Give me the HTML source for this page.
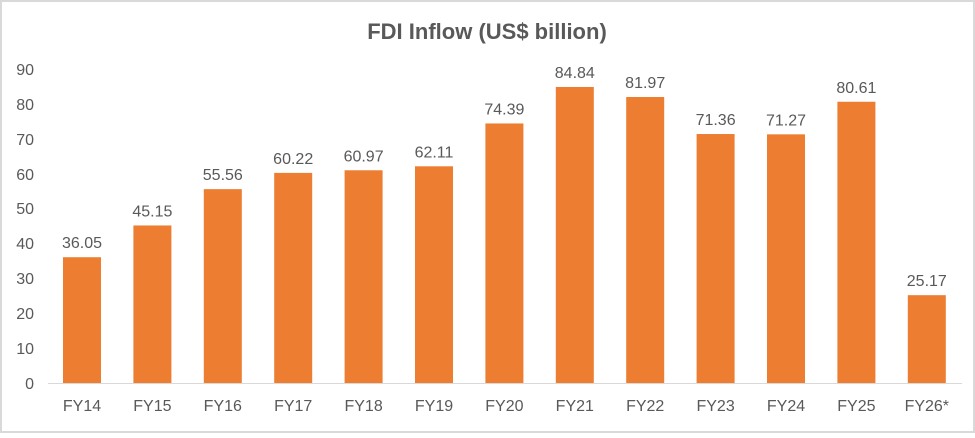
<!DOCTYPE html><html><head><style>body{margin:0;background:#fff}</style></head><body>
<svg width="975" height="433" xmlns="http://www.w3.org/2000/svg" font-family="Liberation Sans, Arial, sans-serif">
<rect x="1" y="1" width="973" height="431" fill="#fff" stroke="#d9d9d9" stroke-width="2"/>
<text x="487" y="39" text-anchor="middle" font-size="22" font-weight="bold" fill="#595959">FDI Inflow (US$ billion)</text>
<g font-size="16" fill="#595959" text-anchor="end">
<text x="34" y="389">0</text><text x="34" y="354">10</text><text x="34" y="319">20</text><text x="34" y="284">30</text><text x="34" y="249">40</text><text x="34" y="214">50</text><text x="34" y="180">60</text><text x="34" y="145">70</text><text x="34" y="110">80</text><text x="34" y="75">90</text>
</g>
<line x1="48" y1="383.5" x2="962" y2="383.5" stroke="#d9d9d9"/>
<g id="bars" fill="#ed7d31"></g>
<g id="lbl" font-size="16" fill="#595959" text-anchor="middle"></g>
<script>
var d=[["FY14",36.05],["FY15",45.15],["FY16",55.56],["FY17",60.22],["FY18",60.97],["FY19",62.11],["FY20",74.39],["FY21",84.84],["FY22",81.97],["FY23",71.36],["FY24",71.27],["FY25",80.61],["FY26*",25.17]];
var b=document.getElementById('bars'),l=document.getElementById('lbl'),ns='http://www.w3.org/2000/svg';
d.forEach(function(e,i){var x=63+i*70.4,h=e[1]*3.489,y=383-h;
var r=document.createElementNS(ns,'rect');r.setAttribute('x',x);r.setAttribute('y',y);r.setAttribute('width',38);r.setAttribute('height',h);b.appendChild(r);
var t=document.createElementNS(ns,'text');t.setAttribute('x',x+19);t.setAttribute('y',y-9);t.textContent=e[1].toFixed(2);l.appendChild(t);
var u=document.createElementNS(ns,'text');u.setAttribute('x',x+19);u.setAttribute('y',411);u.textContent=e[0];l.appendChild(u);});
</script>
</svg></body></html>
